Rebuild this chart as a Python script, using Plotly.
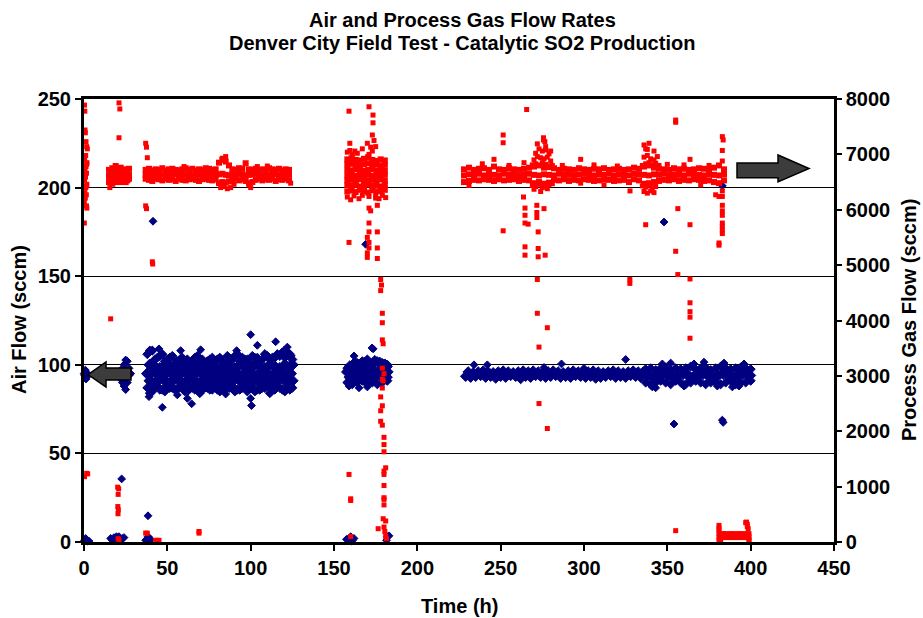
import plotly.graph_objects as go

# ---------------- DATA ----------------
# Air flow (sccm, left axis) -- navy diamonds
air_misc = [(0, 95), (0.5, 94), (1, 96), (1.5, 93), (2, 95), (0.8, 97), (1.2, 92),
            (0.3, 1), (1.0, 2), (2.0, 0.5), (3.0, 0.5),
            (16, 2), (17, 1), (18, 2.5), (19, 1.5), (20, 2), (21, 3), (22, 1), (23, 2), (24, 2.5),
            (19.5, 3), (21.5, 1), (22.6, 35.6),
            (37, 1), (38, 2), (39, 0.5), (40, 1.5), (38.5, 3), (38.4, 14.8), (41.4, 181),
            (157.5, 1.5), (159, 2), (160, 3), (161, 1), (162, 2), (160.5, 0.5),
            (169, 168), (182, 3), (183, 3.5), (181.5, 1), (348, 180.6), (383, 201)]
air_b0 = [(21, 94), (22, 92), (22, 97), (23, 96), (23, 90), (24, 100), (24, 88), (25, 102.7),
          (25, 86), (26, 102), (26, 90), (27, 94), (27, 98), (28, 95)]

A_t = [38, 41, 44, 47, 50, 53, 56, 59, 62, 65, 68, 71, 74, 77, 80, 83, 86, 89, 92, 95,
       98, 101, 104, 107, 110, 113, 116, 119, 122, 124]
A_ts = [39.5, 42.5, 45.5, 48.5, 51.5, 54.5, 57.5, 60.5, 63.5, 66.5, 69.5, 72.5, 75.5, 78.5,
        81.5, 84.5, 87.5, 90.5, 93.5, 96.5, 99.5, 102.5, 105.5, 108.5, 111.5, 114.5, 117.5,
        120.5, 123.5, 125]
A_lo = [87, 85, 88, 86, 88, 87, 86, 88, 85, 87, 88, 86, 87, 86, 86, 88, 87, 88, 86, 87,
        85, 87, 86, 87, 88, 87, 88, 86, 87, 88]
A_m1 = [91, 90, 92, 91, 90, 92, 91, 90, 92, 91, 90, 92, 91, 90, 92, 91, 90, 92, 91, 90,
        92, 91, 90, 92, 91, 90, 92, 91, 90, 91]
A_m2 = [95, 96, 95, 94, 96, 95, 94, 96, 95, 94, 96, 95, 94, 95, 96, 94, 95, 96, 95, 94,
        96, 95, 94, 96, 95, 94, 95, 96, 94, 95]
A_m3 = [100, 99, 98, 100, 99, 98, 100, 99, 98, 100, 99, 98, 100, 99, 98, 100, 99, 98, 100, 99,
        98, 100, 99, 98, 100, 99, 98, 100, 99, 100]
A_hi = [106, 108, 104, 106, 103, 105, 102, 104, 103, 102, 105, 103, 102, 104, 103, 102, 105, 103,
        106, 104, 103, 105, 104, 103, 105, 104, 106, 107, 107, 105]
A_lo2 = [84, 88, 86, 85, 87, 86, 88, 85, 87, 86, 84, 87, 86, 88, 85, 86, 87, 85, 86, 88,
         87, 85, 86, 87, 84, 86, 87, 85, 86, 87]
A_hi2 = [108, 103, 105, 102, 104, 101, 103, 102, 101, 104, 102, 101, 103, 102, 104, 101, 103, 105,
         102, 103, 101, 104, 102, 106, 103, 104, 105, 104, 106, 103]
air_A_out = [(47, 76), (39, 82), (62, 81), (64.6, 78), (100, 117), (100, 81), (100.5, 77),
             (115, 113), (104, 111), (91.6, 108), (58, 108), (45, 109), (41, 108), (120, 108),
             (122, 110), (56, 83), (70, 108.5), (85, 83.5)]

B_t = [158, 161, 164, 167, 170, 173, 176, 179, 182]
B_ts = [159.5, 162.5, 165.5, 168.5, 171.5, 174.5, 177.5, 180.5, 181.5]
B_lo = [90, 89, 90, 91, 89, 90, 89, 90, 91]
B_m1 = [93, 93, 94, 93, 92, 93, 94, 93, 93]
B_m2 = [96, 97, 96, 97, 96, 97, 96, 97, 96]
B_hi = [99, 101, 100, 101, 100, 102, 101, 100, 99]
B_hi2 = [98, 100, 101, 102, 103, 101, 102, 101, 100]
air_B_out = [(162, 105), (172.8, 109.5), (173.5, 109), (165, 87), (170, 87.5), (159, 88)]

C_t = [229, 232, 235, 238, 241, 244, 247, 250, 253, 256, 259, 262, 265, 268, 271, 274, 277, 280,
       283, 286, 289, 292, 295, 298, 301, 304, 307, 310, 313, 316, 319, 322, 325, 328, 331, 334]
C_ts = [230.5, 233.5, 236.5, 239.5, 242.5, 245.5, 248.5, 251.5, 254.5, 257.5, 260.5, 263.5,
        266.5, 269.5, 272.5, 275.5, 278.5, 281.5, 284.5, 287.5, 290.5, 293.5, 296.5, 299.5,
        302.5, 305.5, 308.5, 311.5, 314.5, 317.5, 320.5, 323.5, 326.5, 329.5, 332.5, 335.5]
C_lo = [93.5, 93, 93.5, 94, 93, 93.5, 92.5, 93.5, 93, 94, 93.5, 93, 93.5, 93, 94, 93.5, 93, 93.5,
        94, 93, 93.5, 93, 94, 93.5, 93, 93.5, 92.5, 93, 93.5, 94, 93, 93.5, 93, 94, 93.5, 93]
C_hi = [96, 95.5, 96, 96.5, 96, 95.5, 96, 96.5, 96, 95.5, 96, 96.5, 96, 96.5, 96, 95.5, 96, 96.5,
        96, 95.5, 96, 96.5, 96, 95.5, 96, 96.5, 96, 95.5, 96, 96.5, 96, 95.5, 96, 96.5, 96, 96]
air_C_out = [(234, 100), (242, 100), (286.5, 100.5), (325, 103), (354, 66.6), (383, 68.8),
             (383.5, 67.5), (276, 98.5), (300, 98), (262, 91.5)]

D_t = [337, 340, 343, 346, 349, 352, 355, 358, 361, 364, 367, 370, 373, 376, 379, 382, 385, 388,
       391, 394, 397, 400]
D_ts = [338.5, 341.5, 344.5, 347.5, 350.5, 353.5, 356.5, 359.5, 362.5, 365.5, 368.5, 371.5,
        374.5, 377.5, 380.5, 383.5, 386.5, 389.5, 392.5, 395.5, 398.5, 399.5]
D_lo = [90, 89, 90, 91, 90, 89, 91, 90, 89, 90, 91, 90, 89, 90, 90, 89, 90, 91, 89, 90, 90, 91]
D_m = [94, 93, 94, 95, 94, 93, 94, 95, 94, 93, 94, 95, 94, 93, 94, 95, 94, 93, 94, 95, 94, 94]
D_hi = [97.5, 98, 97, 98, 98.5, 97, 98, 97.5, 98, 99, 97.5, 98, 98.5, 97, 98, 99, 98, 97.5, 98,
        98.5, 98, 97.5]
air_D_out = [(341, 87.5), (343, 87), (360, 88), (380, 88), (389, 87.5), (393, 88), (347, 100.5),
             (352, 101), (366, 100.5), (372, 101.5), (384, 101), (396, 100.5)]

# Process gas flow (sccm, right axis) -- red squares
r0_pts = [(0.2, 6140), (0.8, 6210), (1.4, 6270), (0.5, 6340), (1.1, 6400), (1.7, 6460),
          (0.3, 6530), (0.9, 6590), (1.5, 6660), (0.6, 6720), (1.2, 6780), (1.8, 6850),
          (0.4, 6910), (1.0, 6980), (1.6, 6820), (0.7, 6620), (1.3, 6430),
          (0.3, 7890), (0.5, 7780), (0.6, 7440), (0.8, 7390), (1.2, 7230), (1.6, 7140),
          (2.0, 7100), (1.5, 6070), (1.7, 6030), (0.2, 5760), (0.3, 1180), (1.6, 1240), (2.2, 1230)]

r1_t = [15, 16, 17, 18, 19, 20, 21, 22, 23, 24, 25, 26, 27]
r1_a = [6500, 6530, 6470, 6530, 6500, 6560, 6530, 6500, 6530, 6560, 6500, 6530, 6560]
r1_b = [6610, 6620, 6640, 6600, 6630, 6620, 6650, 6610, 6630, 6640, 6600, 6620, 6630]
r1_c = [6720, 6700, 6750, 6730, 6790, 6720, 6740, 6760, 6710, 6730, 6700, 6720, 6740]
r1_out = [(15.5, 6400), (21, 7930), (21.5, 7820), (21, 7300), (16, 4030), (20.2, 990),
          (20.8, 960), (20.5, 860), (20.3, 640), (20.6, 580), (20.4, 510), (20.5, 60), (21, 30)]

r2_t = [37, 39, 41, 43, 45, 47, 49, 51, 53, 55, 57, 59, 61, 63, 65, 67, 69, 71, 73, 75, 77, 79,
        81, 83, 85, 87, 89, 91, 93, 95, 97, 99, 101, 103, 105, 107, 109, 111, 113, 115, 117,
        119, 121, 123]
r2_a = [6560, 6540, 6520, 6560, 6550, 6530, 6560, 6540, 6550, 6520,
        6560, 6540, 6530, 6550, 6560, 6540, 6520, 6550, 6560, 6540,
        6530, 6550, 6480, 6500, 6490, 6510, 6540, 6560, 6530, 6550,
        6520, 6480, 6500, 6540, 6560, 6530, 6550, 6540, 6560, 6520,
        6550, 6540, 6560, 6530]
r2_b = [6630, 6640, 6620, 6650, 6630, 6640, 6620, 6630, 6650, 6640,
        6620, 6630, 6640, 6650, 6630, 6620, 6640, 6630, 6650, 6640,
        6620, 6630, 6640, 6650, 6630, 6620, 6640, 6630, 6650, 6640,
        6620, 6630, 6640, 6650, 6630, 6620, 6640, 6630, 6650, 6640,
        6620, 6630, 6640, 6630]
r2_c = [6720, 6740, 6710, 6730, 6720, 6750, 6710, 6730, 6740, 6720,
        6710, 6730, 6750, 6720, 6740, 6710, 6730, 6720, 6750, 6740,
        6720, 6730, 6850, 6900, 6870, 6800, 6730, 6720, 6750, 6740,
        6840, 6730, 6720, 6740, 6710, 6730, 6720, 6750, 6730, 6720,
        6740, 6710, 6730, 6720]
r2_out = [(37, 7200), (37.5, 7130), (38, 6940), (37, 6070), (37.5, 6020), (41, 5060), (41.2, 5020),
          (82, 6400), (84, 6420), (86, 6380), (88, 6400), (99, 6450), (100, 6400), (124, 6480),
          (60, 6780), (104, 6780), (110, 6790), (90, 6460), (37, 160), (38, 160), (43, 30),
          (44, 30), (45, 30), (69, 190), (69, 160), (83, 6930), (85, 6960)]

r3_t = [158, 160.5, 163, 165.5, 168, 170.5, 173, 175.5, 178, 180.5]
r3_r1 = [6330, 6350, 6320, 6360, 6340, 6310, 6350, 6330, 6340, 6360]
r3_r2 = [6440, 6430, 6450, 6420, 6440, 6460, 6430, 6440, 6420, 6450]
r3_r3 = [6530, 6540, 6520, 6550, 6530, 6520, 6540, 6530, 6550, 6520]
r3_r4 = [6620, 6630, 6610, 6640, 6620, 6630, 6610, 6620, 6640, 6630]
r3_r5 = [6720, 6710, 6730, 6720, 6700, 6720, 6730, 6710, 6720, 6700]
r3_r6 = [6820, 6830, 6810, 6800, 6820, 6840, 6810, 6820, 6800, 6810]
r3_r7 = [6910, 6930, 6900, 6890, 6920, 6950, 6900, 6880, 6910, 6890]
r3_out = [(158, 7040), (159.5, 7070), (161, 7000), (162.5, 7060), (164, 7020), (171, 7000),
          (173, 7060), (172, 7130), (170, 7200), (174, 7250),
          (158, 6230), (160, 6180), (162, 6250), (165, 6200), (167, 6260), (175, 6250),
          (177, 6200), (179, 6260), (181, 6220),
          (159, 7780), (171, 7860), (173.4, 7710), (173.4, 7570), (173, 7350), (159.5, 7200),
          (167, 7100), (175, 7140),
          (171, 6240), (175, 6210), (176, 6080), (171, 6030), (172, 5980), (171, 5760),
          (171, 5600), (176, 5600), (170, 5500), (171, 5410), (159, 5410), (171, 5310),
          (176, 5310), (170, 5220), (170, 5140), (176, 5120),
          (178, 4740), (178.5, 4640), (178, 4540), (179, 4130), (179, 3960), (179, 3650),
          (179.5, 3580), (179, 3140), (180, 3040), (179, 2940), (179.5, 2910), (179, 2780),
          (178, 2620), (179, 2460), (178, 2370), (178, 2180), (179, 2110), (180, 1890),
          (180, 1760), (180, 1630), (181, 1340), (180, 1280), (159, 1220), (180, 1220),
          (180, 1020), (180, 800), (180, 770), (180, 670), (179.5, 420), (181, 380),
          (176.5, 240), (180, 270), (180.5, 190), (181, 100), (181.5, 60), (160, 780),
          (160, 750), (160, 100)]

r4_t = [228, 231, 234, 237, 240, 243, 246, 249, 252, 255, 258, 261, 264, 267, 270, 273, 276,
        279, 282, 285, 288, 291, 294, 297, 300, 303, 306, 309, 312, 315, 318, 321, 324, 327,
        330, 333, 336, 339, 342, 345, 348, 351, 354, 357, 360, 363, 366, 369, 372, 375, 378,
        381, 384]
r4_a = [6500, 6520, 6540, 6530, 6550, 6540, 6520, 6550, 6530, 6540,
        6550, 6520, 6540, 6530, 6480, 6500, 6470, 6490, 6540, 6530,
        6550, 6520, 6540, 6530, 6550, 6540, 6520, 6530, 6550, 6540,
        6520, 6530, 6540, 6500, 6550, 6530, 6470, 6480, 6500, 6520,
        6540, 6530, 6550, 6520, 6540, 6530, 6550, 6540, 6520, 6530,
        6500, 6480, 6530]
r4_b = [6620, 6640, 6630, 6650, 6620, 6640, 6630, 6620, 6650, 6640,
        6630, 6620, 6640, 6650, 6630, 6620, 6640, 6630, 6620, 6650,
        6640, 6630, 6620, 6640, 6650, 6630, 6620, 6640, 6630, 6650,
        6620, 6640, 6630, 6620, 6650, 6640, 6630, 6620, 6640, 6630,
        6650, 6620, 6640, 6630, 6620, 6650, 6640, 6630, 6620, 6640,
        6630, 6620, 6640]
r4_c = [6730, 6760, 6720, 6740, 6750, 6720, 6780, 6730, 6720, 6750,
        6730, 6720, 6740, 6760, 6780, 6800, 6760, 6770, 6750, 6720,
        6740, 6730, 6720, 6750, 6730, 6720, 6740, 6730, 6750, 6720,
        6730, 6740, 6720, 6730, 6760, 6740, 6780, 6800, 6760, 6740,
        6730, 6720, 6750, 6730, 6740, 6720, 6730, 6750, 6740, 6720,
        6760, 6800, 6730]
r4_out = [(269, 6810), (271, 6830), (273, 6800), (275, 6850), (277, 6820), (279, 6790), (281, 6800),
          (270, 6900), (272, 6960), (274, 6940), (276, 6920), (278, 6950), (280, 6880),
          (271, 7020), (273, 7100), (275, 7060), (277, 7080), (279, 7010), (272, 7190),
          (275.7, 7260), (276.5, 7230), (269, 6440), (271, 6420), (273, 6460), (275, 6400),
          (277, 6430), (279, 6450), (281, 6470), (270, 6370), (274, 6330), (278, 6380),
          (335, 6800), (337, 6830), (339, 6850), (341, 6810), (343, 6840), (345, 6800),
          (336, 6950), (338, 6980), (340, 6920), (342, 6900), (344, 6960), (337, 7100),
          (339, 7200), (336, 7170), (338, 7090), (335, 6430), (337, 6410), (339, 6440),
          (341, 6400), (343, 6420), (336, 6330), (338, 6300), (340, 6340), (342, 6310),
          (239, 6830), (255, 6800), (287, 6800), (306, 6810), (320, 6790), (231, 6440),
          (312, 6450), (350, 6820), (360, 6810), (370, 6450), (375, 6800),
          (246, 6910), (251.5, 7350), (251.5, 7210), (251.5, 5620), (263.7, 6230), (264, 6850),
          (265.6, 7810), (264.6, 6030), (264.6, 5900), (264.6, 5760), (266.5, 5740),
          (264.6, 5330), (264.6, 5180), (272.5, 5600), (272.5, 5300), (272.5, 5150),
          (276.7, 5180), (276, 6020), (271.7, 6080), (271.7, 5950), (271.7, 5860),
          (275.7, 7300), (277, 7140), (280, 7060), (298, 6910), (298, 6480), (272, 4740),
          (272, 4130), (278, 3870), (273, 3520), (273, 2500), (278, 2050), (327.6, 6340),
          (337, 5730), (342, 7060), (355, 7580), (355, 7620), (356.3, 6020), (355, 5250),
          (356.3, 4830), (363.6, 5730), (363.6, 4750), (363.6, 4320), (363.6, 4160),
          (363.6, 4060), (363.6, 3680), (327.5, 4740), (327.5, 4670), (363.6, 6910),
          (383, 7320), (383.5, 7260), (383, 7070), (383, 6880), (383, 6240), (383, 6080),
          (383, 5980), (383, 5900), (383, 5760), (383, 5700), (383, 5630), (383, 5570),
          (381, 5400), (381, 5360), (379, 6270), (381, 6240), (383, 6340)]

r5_t = [381, 382, 383, 384, 385, 386, 387, 388, 389, 390, 391, 392, 393, 394, 395, 396, 397, 398, 399]
r5_a = [90, 80, 90, 80, 90, 80, 90, 80, 90, 80, 90, 80, 90, 80, 90, 80, 90, 80, 90]
r5_b = [150, 140, 150, 150, 140, 150, 140, 150, 150, 140, 150, 140, 150, 150, 140, 150, 140, 150, 150]
r5_out = [(381, 300), (381, 250), (381, 210), (381, 40), (381.5, 10), (382, 30), (397, 350),
          (397.5, 360), (398, 320), (398, 280), (398.5, 240), (399, 50), (399, 20), (355, 205)]

x_ticks = [0, 50, 100, 150, 200, 250, 300, 350, 400, 450]
y_ticks = [0, 50, 100, 150, 200, 250]
y2_ticks = [0, 1000, 2000, 3000, 4000, 5000, 6000, 7000, 8000]


# ---------------- helpers ----------------
def unzip(pts):
    return [p[0] for p in pts], [p[1] for p in pts]


def cat(*lists):
    out = []
    for l in lists:
        out += list(l)
    return out


NAVY = "#000080"
RED = "#FF0000"
FONT = "Liberation Sans, Arial, sans-serif"

fig = go.Figure()

# ----- blue core (big diamonds)
bx = cat(A_ts, A_t, A_ts, B_ts, B_t, B_ts, D_ts)
by = cat(A_m1, A_m2, A_m3, B_m1, B_m2, B_hi, D_m)
fig.add_trace(go.Scatter(x=bx, y=by, mode="markers", yaxis="y", cliponaxis=False,
                         marker=dict(symbol="diamond", size=9, color=NAVY,
                                     line=dict(color=NAVY, width=1)),
                         showlegend=False, hoverinfo="skip"))
fig.add_trace(go.Scatter(x=cat(C_t, C_ts), y=cat(C_lo, C_hi), mode="markers", yaxis="y",
                         cliponaxis=False,
                         marker=dict(symbol="diamond", size=8, color=NAVY,
                                     line=dict(color=NAVY, width=1)),
                         showlegend=False, hoverinfo="skip"))
# ----- blue band edges
fig.add_trace(go.Scatter(x=cat(A_t, A_t, A_ts, A_ts, B_t, B_t, D_t, D_t),
                         y=cat(A_lo, A_hi, A_lo2, A_hi2, B_lo, B_hi2, D_lo, D_hi),
                         mode="markers", yaxis="y", cliponaxis=False,
                         marker=dict(symbol="diamond", size=7, color=NAVY,
                                     line=dict(color=NAVY, width=1)),
                         showlegend=False, hoverinfo="skip"))
# ----- blue outliers
ex, ey = [], []
for pts in (air_misc, air_b0, air_A_out, air_B_out, air_C_out, air_D_out):
    t, v = unzip(pts)
    ex += t
    ey += v
fig.add_trace(go.Scatter(x=ex, y=ey, mode="markers", yaxis="y", cliponaxis=False,
                         marker=dict(symbol="diamond", size=6, color=NAVY,
                                     line=dict(color=NAVY, width=1)),
                         name="Air Flow", showlegend=False, hoverinfo="skip"))

# ----- red core
rx = cat(r1_t, r1_t, r1_t, r2_t, r2_t, r2_t, r3_t * 7, r4_t, r4_t, r4_t)
ry = cat(r1_a, r1_b, r1_c, r2_a, r2_b, r2_c, r3_r1, r3_r2, r3_r3, r3_r4, r3_r5, r3_r6, r3_r7,
         r4_a, r4_b, r4_c)
fig.add_trace(go.Scatter(x=rx, y=ry, mode="markers", yaxis="y2", cliponaxis=False,
                         marker=dict(symbol="square", size=6, color=RED, line=dict(width=0)),
                         showlegend=False, hoverinfo="skip"))
ox, oy = [], []
for pts in (r0_pts, r1_out, r2_out, r3_out, r4_out, r5_out):
    t, v = unzip(pts)
    ox += t
    oy += v
ox += cat(r5_t, r5_t)
oy += cat(r5_a, r5_b)
fig.add_trace(go.Scatter(x=ox, y=oy, mode="markers", yaxis="y2", cliponaxis=False,
                         marker=dict(symbol="square", size=5, color=RED, line=dict(width=0)),
                         name="Process Gas Flow", showlegend=False, hoverinfo="skip"))

# ----- arrows (shapes)
fig.add_shape(type="path", xref="x", yref="y", layer="above",
              path="M 2.4,94.5 L 13.2,101.6 L 13.2,98.2 L 28.2,98.2 L 28.2,91.4 L 13.2,91.4 L 13.2,87.5 Z",
              fillcolor="#3c3c3c", line=dict(color="black", width=1.5))
fig.add_shape(type="path", xref="x", yref="y", layer="above",
              path="M 391.8,213.9 L 416.4,213.9 L 416.4,218.4 L 435,210.8 L 416.4,203.2 L 416.4,205.6 L 391.8,205.6 Z",
              fillcolor="#3c3c3c", line=dict(color="black", width=1.5))

L, R, T, B = 84, 89, 99, 76
W, H = 923, 618
PW, PH = W - L - R, H - T - B


def px(xp):
    return (xp - L) / PW


def py(yp):
    return (H - B - yp) / PH


ann_font = dict(family=FONT, size=20, color="black", weight="bold")
annotations = [
    dict(text="Air and Process Gas Flow Rates", x=px(462), y=py(20), xref="paper", yref="paper",
         showarrow=False, font=ann_font, xanchor="center", yanchor="middle"),
    dict(text="Denver City Field Test - Catalytic SO2 Production", x=px(462), y=py(43),
         xref="paper", yref="paper", showarrow=False, font=ann_font, xanchor="center",
         yanchor="middle"),
    dict(text="Time (h)", x=px(459), y=py(606), xref="paper", yref="paper", showarrow=False,
         font=ann_font, xanchor="center", yanchor="middle"),
    dict(text="Air Flow (sccm)", x=px(19), y=py(320), xref="paper", yref="paper",
         showarrow=False, font=ann_font, textangle=-90, xanchor="center", yanchor="middle"),
    dict(text="Process Gas Flow (sccm)", x=px(909), y=py(320), xref="paper", yref="paper",
         showarrow=False, font=ann_font, textangle=-90, xanchor="center", yanchor="middle"),
]

tick_font = dict(family=FONT, size=20, color="black", weight="bold")
fig.update_layout(
    width=W, height=H,
    margin=dict(l=L, r=R, t=T, b=B, autoexpand=False),
    paper_bgcolor="white", plot_bgcolor="white",
    showlegend=False,
    annotations=annotations,
    xaxis=dict(range=[0, 450], tickvals=x_ticks, ticks="outside", ticklen=6, tickwidth=2,
               tickcolor="black", showline=True, linecolor="black", linewidth=2.5,
               mirror=True, showgrid=False, zeroline=False, tickfont=tick_font),
    yaxis=dict(range=[0, 250], tickvals=y_ticks, ticks="outside", ticklen=6, tickwidth=2,
               tickcolor="black", showline=True, linecolor="black", linewidth=3,
               showgrid=True, gridcolor="black", gridwidth=1, zeroline=False,
               tickfont=tick_font),
    yaxis2=dict(range=[0, 8000], tickvals=y2_ticks, overlaying="y", side="right", anchor="x",
                ticks="outside", ticklen=5, tickwidth=2, tickcolor="black", showline=True,
                linecolor="black", linewidth=2.5, showgrid=False, zeroline=False,
                tickfont=tick_font),
)

fig.write_html("out.html")
